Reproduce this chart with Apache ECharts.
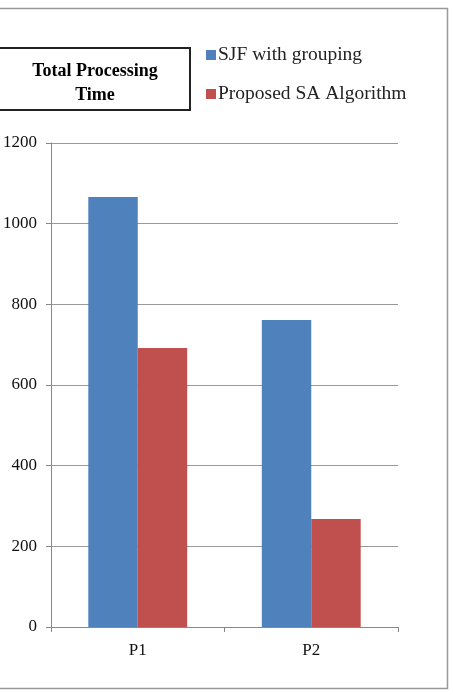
<!DOCTYPE html>
<html><head><meta charset="utf-8">
<script src="https://cdn.jsdelivr.net/npm/echarts@6/dist/echarts.min.js"></script>
<style>html,body{margin:0;padding:0;background:#fff}#c{width:453px;height:699px}</style>
</head><body><div id="c"></div>
<script>
const categories = ['P1', 'P2'];
const sjfValues = [1066, 761];
const saValues = [692, 268];
const seriesNames = ['SJF with grouping', 'Proposed SA Algorithm'];
const titleText = 'Total Processing\nTime';

const chart = echarts.init(document.getElementById('c'), null, {renderer: 'canvas'});
const serif = '"Liberation Serif", "DejaVu Serif", serif';
chart.setOption({
  animation: false,
  backgroundColor: '#fff',
  title: {
    text: titleText,
    left: 90, top: 54, textAlign: 'center',
    textStyle: {fontFamily: serif, fontSize: 18, fontWeight: 'bold', color: '#000', lineHeight: 24}
  },
  legend: {
    orient: 'vertical', left: 201, top: 40,
    itemWidth: 10, itemHeight: 10, itemGap: 19,
    icon: 'rect',
    textStyle: {fontFamily: serif, fontSize: 19.5, color: '#222', padding: [0,0,0,-3]},
    data: seriesNames
  },
  grid: {left: 51, right: 55, top: 143, bottom: 72, containLabel: false},
  xAxis: {
    type: 'category', data: categories,
    axisLine: {lineStyle: {color: '#888', width: 1}},
    axisTick: {show: true, length: 5, lineStyle: {color: '#888'}},
    axisLabel: {fontFamily: serif, fontSize: 17, color: '#111', margin: 15}
  },
  yAxis: {
    type: 'value', min: 0, max: 1200, interval: 200,
    axisLine: {show: true, lineStyle: {color: '#888'}},
    axisTick: {show: true, length: 5, lineStyle: {color: '#888'}},
    splitLine: {lineStyle: {color: '#999', width: 1}},
    axisLabel: {fontFamily: serif, fontSize: 17, color: '#111', margin: 14, formatter: v => String(v)}
  },
  series: [
    {name: seriesNames[0], type: 'bar', data: sjfValues, barWidth: '28.5%', barGap: '0%',
     itemStyle: {color: '#4F81BD'}},
    {name: seriesNames[1], type: 'bar', data: saValues, barWidth: '28.5%', barGap: '0%',
     itemStyle: {color: '#C0504D'}}
  ],
  graphic: [
    {type: 'rect', shape: {x: -5, y: 8.5, width: 452.5, height: 680}, style: {fill: 'none', stroke: '#999', lineWidth: 1.5}, silent: true},
    {type: 'rect', shape: {x: -5, y: 48, width: 195, height: 62}, style: {fill: 'none', stroke: '#222', lineWidth: 2}, silent: true}
  ]
});
</script></body></html>
